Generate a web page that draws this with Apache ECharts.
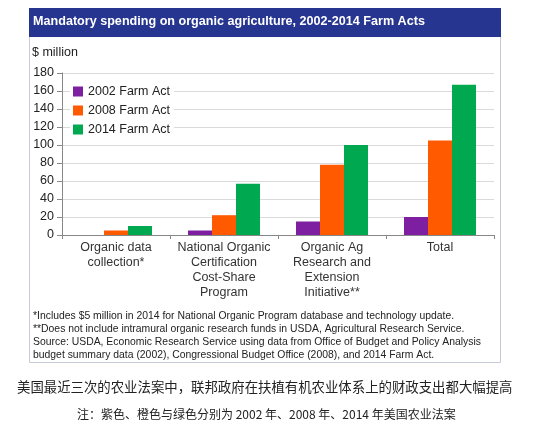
<!DOCTYPE html>
<html><head><meta charset="utf-8">
<script src="https://cdn.jsdelivr.net/npm/echarts@6/dist/echarts.min.js"></script>
<style>html,body{margin:0;padding:0;background:#fff}#c{width:543px;height:430px}</style>
</head><body><div id="c"></div>
<script>
const categories = ["Organic data\ncollection*", "National Organic\nCertification\nCost-Share\nProgram", "Organic Ag\nResearch and\nExtension\nInitiative**", "Total"];
const act2002 = [0, 5, 15, 20];
const act2008 = [5, 22, 78, 105];
const act2014 = [10, 57, 100, 167];
const seriesNames = ["2002 Farm Act", "2008 Farm Act", "2014 Farm Act"];
const yTicks = [0, 20, 40, 60, 80, 100, 120, 140, 160, 180];
const titleText = "Mandatory spending on organic agriculture, 2002-2014 Farm Acts";
const footnotes = [
  "*Includes $5 million in 2014 for National Organic Program database and technology update.",
  "**Does not include intramural organic research funds in USDA, Agricultural Research Service.",
  "Source: USDA, Economic Research Service using data from Office of Budget and Policy Analysis",
  "budget summary data (2002), Congressional Budget Office (2008), and 2014 Farm Act."
];
const caption1 = "美国最近三次的农业法案中，联邦政府在扶植有机农业体系上的财政支出都大幅提高";
const caption2 = "注：紫色、橙色与绿色分别为 2002 年、2008 年、2014 年美国农业法案";

const colors = ['#7d1fa0', '#ff5a00', '#00a84f'];
const font = 'Liberation Sans, Arial, Helvetica, sans-serif';
const chart = echarts.init(document.getElementById('c'), null, {renderer: 'canvas'});
const mk = (name, data, i) => ({
  name, type: 'bar', data, barWidth: 24, barGap: '0%',
  itemStyle: {color: colors[i]}, z: 3
});
chart.setOption({
  animation: false,
  textStyle: {fontFamily: font},
  grid: {left: 62, right: 49, top: 73, bottom: 195, containLabel: false},
  legend: {
    orient: 'vertical', left: 70, top: 83, itemWidth: 10, itemHeight: 10, itemGap: 6,
    backgroundColor: '#fff', padding: [2, 4, 2, 3],
    textStyle: {fontSize: 12.5, color: '#222', fontFamily: font},
    data: seriesNames, icon: 'rect'
  },
  xAxis: {
    type: 'category', data: categories,
    axisLine: {lineStyle: {color: '#888', width: 1}},
    axisTick: {show: true, length: 4, lineStyle: {color: '#888'}},
    axisLabel: {fontSize: 12.5, color: '#333', lineHeight: 15, margin: 5, interval: 0, fontFamily: font}
  },
  yAxis: {
    type: 'value', min: yTicks[0], max: yTicks[yTicks.length - 1], interval: 20,
    axisLine: {show: true, lineStyle: {color: '#888'}},
    axisTick: {show: true, length: 5, lineStyle: {color: '#888'}},
    axisLabel: {fontSize: 12.5, color: '#222', margin: 8, fontFamily: font},
    splitLine: {lineStyle: {color: '#dadada'}}
  },
  series: [mk(seriesNames[0], act2002, 0), mk(seriesNames[1], act2008, 1), mk(seriesNames[2], act2014, 2)],
  graphic: [
    {type: 'rect', shape: {x: 29.5, y: 8.5, width: 471, height: 354}, style: {fill: 'none', stroke: '#c5ccd8', lineWidth: 1}, z: -1},
    {type: 'rect', shape: {x: 29, y: 8, width: 472, height: 29}, style: {fill: '#26358f'}},
    {type: 'text', left: 33, top: 15, style: {text: titleText, fill: '#fff', font: 'bold 12.6px ' + font}},
    {type: 'text', left: 32, top: 46, style: {text: '$ million', fill: '#222', font: '12.5px ' + font}},
    {type: 'text', left: 33, top: 310, style: {text: footnotes.join('\n'), fill: '#222', font: '10.4px ' + font, lineHeight: 13}},
    {type: 'text', left: 17, top: 380, style: {text: caption1, fill: '#222', font: '13.4px "Noto Sans CJK SC"'}},
    {type: 'text', left: 77, top: 408, style: {text: caption2, fill: '#222', font: '12px "Noto Sans CJK SC"'}}
  ]
});
</script></body></html>
